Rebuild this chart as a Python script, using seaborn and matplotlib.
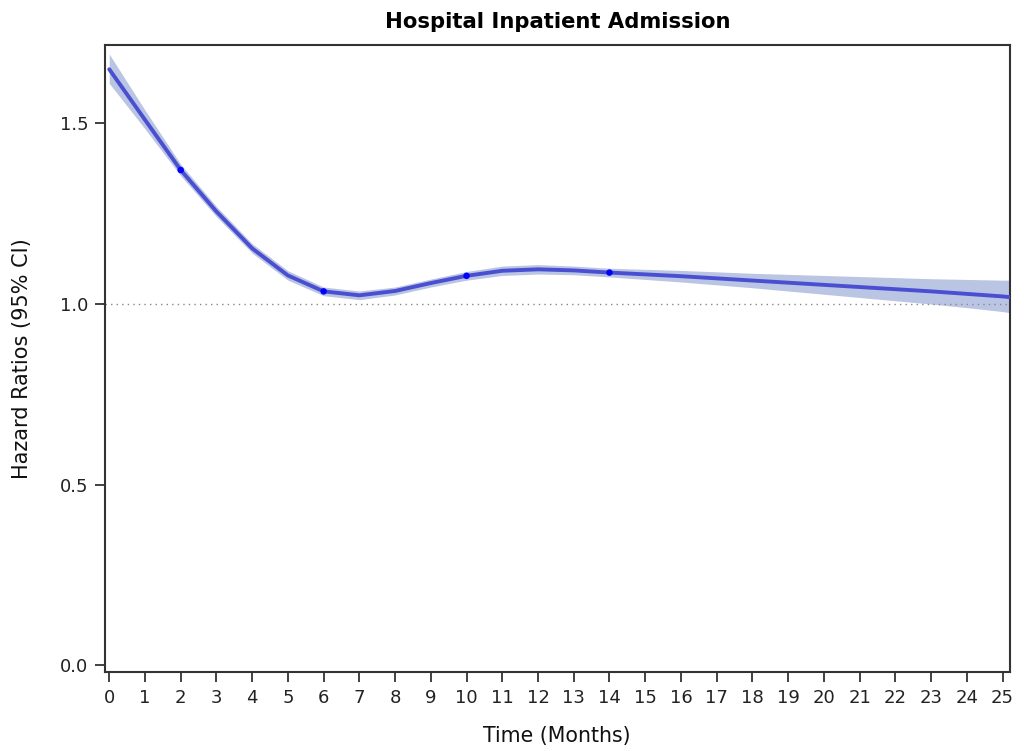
import matplotlib
matplotlib.use("Agg")
import matplotlib.pyplot as plt
import seaborn as sns
import pandas as pd

# Data
months = [0, 1, 2, 3, 4, 5, 6, 7, 8, 9, 10, 11, 12, 13, 14, 15, 16, 17, 18, 19, 20, 21, 22, 23, 24, 25, 25.2]
hr = [1.650, 1.510, 1.371, 1.256, 1.154, 1.079, 1.035, 1.024, 1.036, 1.058, 1.078, 1.092, 1.096, 1.093,
      1.087, 1.082, 1.077, 1.071, 1.065, 1.059, 1.053, 1.047, 1.041, 1.035, 1.028, 1.021, 1.019]
lower = [1.611, 1.485, 1.355, 1.242, 1.141, 1.066, 1.023, 1.012, 1.025, 1.047, 1.066, 1.079, 1.083, 1.081,
         1.075, 1.068, 1.061, 1.053, 1.045, 1.036, 1.027, 1.018, 1.009, 1.000, 0.990, 0.979, 0.976]
upper = [1.692, 1.537, 1.387, 1.270, 1.167, 1.092, 1.047, 1.036, 1.047, 1.069, 1.090, 1.105, 1.109, 1.105,
         1.099, 1.096, 1.093, 1.089, 1.085, 1.082, 1.079, 1.076, 1.073, 1.070, 1.068, 1.066, 1.066]
knot_months = [2, 6, 10, 14]
knot_hr = [1.371, 1.035, 1.078, 1.087]

x_ticks = list(range(0, 26))
y_ticks = [0.0, 0.5, 1.0, 1.5]

df = pd.DataFrame({"Month": months, "HR": hr, "Lower": lower, "Upper": upper})
knots = pd.DataFrame({"Month": knot_months, "HR": knot_hr})

sns.set_theme(style="white")
plt.rcParams["font.family"] = ["DejaVu Sans"]

fig = plt.figure(figsize=(10.24, 7.51), dpi=100)
ax = fig.add_axes([0.1025, 0.1052, 0.8835, 0.8348])

ax.fill_between(df["Month"], df["Lower"], df["Upper"], color="#BAC5E3", linewidth=0, zorder=1)
sns.lineplot(data=df, x="Month", y="HR", ax=ax, color="#4A4FD1", linewidth=2.8, zorder=3)
sns.scatterplot(data=knots, x="Month", y="HR", ax=ax, color="#0000FF", s=22, edgecolor="none", zorder=4)
ax.axhline(1.0, color="#888888", linestyle=(0, (1, 3)), linewidth=1.0, zorder=2)

ax.set_xlim(-0.12, 25.2)
ax.set_ylim(-0.019, 1.717)
ax.set_xticks(x_ticks)
ax.set_xticklabels([str(t) for t in x_ticks])
ax.set_yticks(y_ticks)
ax.set_yticklabels([f"{t:.1f}" for t in y_ticks])

for s in ax.spines.values():
    s.set_visible(True)
    s.set_color("#333333")
    s.set_linewidth(1.5)

ax.tick_params(axis="both", which="major", direction="out", length=7, width=1.3,
               color="#333333", labelsize=13, labelcolor="#222222", pad=5,
               bottom=True, left=True)

ax.set_xlabel("Time (Months)", fontsize=14.8, color="#111111", labelpad=14)
ax.set_ylabel("Hazard Ratios (95% CI)", fontsize=15, color="#111111", labelpad=20)
ax.set_title("Hospital Inpatient Admission", fontsize=15.2, fontweight="bold", color="#000000", pad=12)

fig.savefig("out.png", dpi=100)
